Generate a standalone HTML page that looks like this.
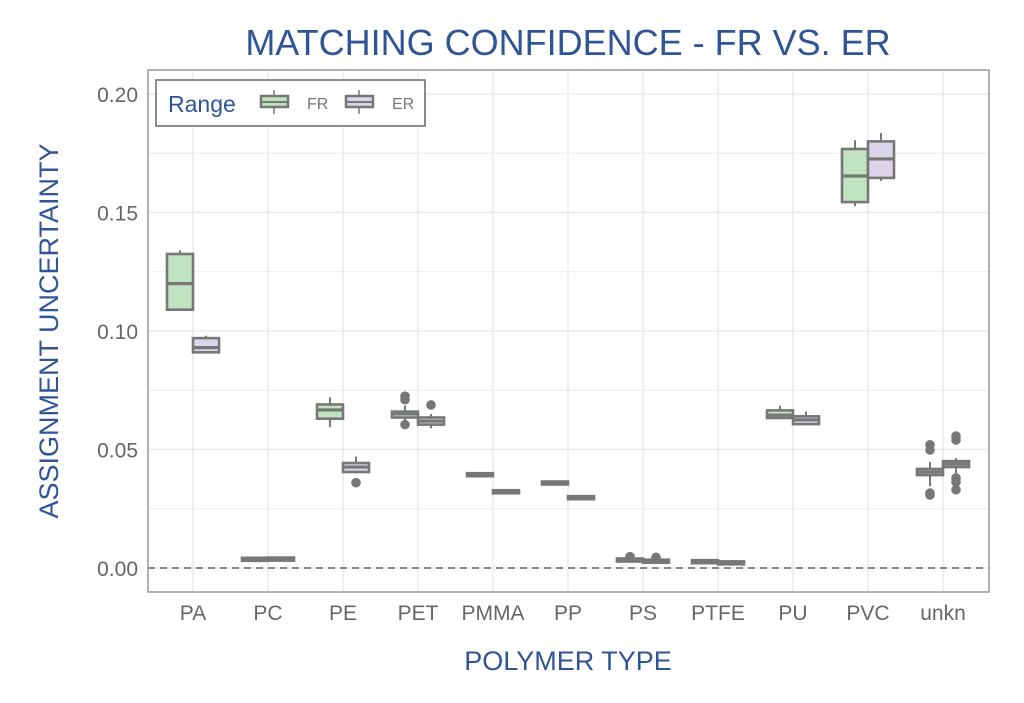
<!DOCTYPE html>
<html><head><meta charset="utf-8"><style>
body{margin:0;background:#fff;width:1024px;height:698px;overflow:hidden}
svg text{font-family:"Liberation Sans",sans-serif}
</style></head><body>
<svg id="chart" width="1024" height="698">
<text x="568" y="55" text-anchor="middle" font-size="36" fill="#2F5597">MATCHING CONFIDENCE - FR VS. ER</text>
<text x="568" y="670" text-anchor="middle" font-size="27" fill="#2F5597">POLYMER TYPE</text>
<text transform="translate(58,331) rotate(-90)" text-anchor="middle" font-size="27" fill="#2F5597">ASSIGNMENT UNCERTAINTY</text>
<g id="grid"></g><g id="marks"></g><g id="axes"></g>
<rect x="148" y="70" width="841" height="522" fill="none" stroke="#999" stroke-width="1.5"/>
<g>
<rect x="156" y="80" width="269" height="46" fill="#fff" stroke="#666" stroke-width="1.5"/>
<text x="168" y="112" font-size="23" fill="#2F5597">Range</text>
<g><line x1="274" y1="90" x2="274" y2="114" stroke="#777" stroke-width="1.5"/><rect x="261" y="96" width="27" height="11" fill="#C1E4C0" stroke="#777" stroke-width="2.5"/><line x1="261" y1="102" x2="288" y2="102" stroke="#777" stroke-width="2"/><text x="307" y="109" font-size="16" fill="#777">FR</text></g>
<g><line x1="359" y1="90" x2="359" y2="114" stroke="#777" stroke-width="1.5"/><rect x="346" y="96" width="27" height="11" fill="#DCD5EA" stroke="#777" stroke-width="2.5"/><line x1="346" y1="102" x2="373" y2="102" stroke="#777" stroke-width="2"/><text x="392" y="109" font-size="16" fill="#777">ER</text></g>
</g>
</svg>
<script>
const categories=["PA","PC","PE","PET","PMMA","PP","PS","PTFE","PU","PVC","unkn"];
// [whiskerLow, q1, median, q3, whiskerHigh]
const frStats=[[0.109,0.109,0.120,0.1325,0.134],[0.0038,0.0038,0.004,0.0043,0.0045],[0.0595,0.063,0.0667,0.069,0.072],[0.062,0.0635,0.065,0.066,0.0685],[0.039,0.039,0.0395,0.040,0.040],[0.0355,0.0355,0.036,0.0365,0.0365],[0.003,0.003,0.0035,0.004,0.004],[0.0028,0.0028,0.003,0.0033,0.0033],[0.0633,0.0633,0.0645,0.0665,0.0684],[0.1527,0.1544,0.1654,0.1768,0.1805],[0.0345,0.0392,0.0405,0.0418,0.0447]];
const erStats=[[0.0905,0.091,0.093,0.097,0.098],[0.0038,0.004,0.0042,0.0044,0.0047],[0.0405,0.0405,0.0426,0.0443,0.047],[0.059,0.0605,0.062,0.0635,0.065],[0.0322,0.0322,0.0325,0.0328,0.0328],[0.0297,0.0297,0.030,0.0303,0.0303],[0.0025,0.0025,0.003,0.0035,0.0035],[0.0023,0.0023,0.0025,0.0028,0.0028],[0.0607,0.0607,0.0625,0.064,0.066],[0.1633,0.1646,0.1726,0.180,0.1835],[0.040,0.0426,0.0439,0.0451,0.0464]];
const frOutliers=[[],[],[],[0.0725,0.071,0.0605],[],[],[0.0048],[],[],[],[0.052,0.0498,0.0316,0.0308]];
const erOutliers=[[],[],[0.036],[0.0688],[],[],[0.0045],[],[],[],[0.0557,0.054,0.038,0.0363,0.033]];
const yTicks=[0,0.05,0.10,0.15,0.20];
const yTickLabels=["0.00","0.05","0.10","0.15","0.20"];
const NS="http://www.w3.org/2000/svg";
const y=v=>568-v*2370;
const x=i=>193+i*75;
function mk(t,a,p){const e=document.createElementNS(NS,t);for(const k in a)e.setAttribute(k,a[k]);p.appendChild(e);return e;}
const grid=document.getElementById('grid'),marks=document.getElementById('marks'),axes=document.getElementById('axes');
for(let v=0;v<=0.2001;v+=0.025){const g=mk('line',{x1:148,x2:989,y1:y(v),y2:y(v),stroke:'#ebebeb','stroke-width':Math.round(v*1000)%50===0?1.6:1},grid);

}
categories.forEach((c,i)=>{const g=mk('line',{x1:x(i),x2:x(i),y1:70,y2:592,stroke:'#ebebeb','stroke-width':1.6},grid);


const t=mk('text',{x:x(i),y:620,'text-anchor':'middle','font-size':21,fill:'#666'},axes);t.textContent=c;

});
yTicks.forEach((v,i)=>{const t=mk('text',{x:138,y:y(v)+8,'text-anchor':'end','font-size':21,fill:'#666'},axes);t.textContent=yTickLabels[i];

});
const ref=mk('line',{x1:148,x2:989,y1:y(0),y2:y(0),stroke:'#888','stroke-width':2,'stroke-dasharray':'7,5'},marks);


function box(s,cx,fill,outs,name){
const g=mk('g',{},marks);


mk('line',{x1:cx,x2:cx,y1:y(s[0]),y2:y(s[4]),stroke:'#777','stroke-width':2},g);
const h=Math.max(y(s[1])-y(s[3]),3);
mk('rect',{x:cx-13,y:y(s[3]),width:26,height:h,fill:fill,stroke:'#777','stroke-width':2.6},g);
mk('line',{x1:cx-13,x2:cx+13,y1:y(s[2]),y2:y(s[2]),stroke:'#777','stroke-width':3.2},g);
outs.forEach(o=>mk('circle',{cx:cx,cy:y(o),r:4.8,fill:'#777'},g));}
categories.forEach((c,i)=>{
box(frStats[i],x(i)-13,'#C1E4C0',frOutliers[i],'box-fr-'+c.toLowerCase());
box(erStats[i],x(i)+13,'#DCD5EA',erOutliers[i],'box-er-'+c.toLowerCase());});
</script>
</body></html>
